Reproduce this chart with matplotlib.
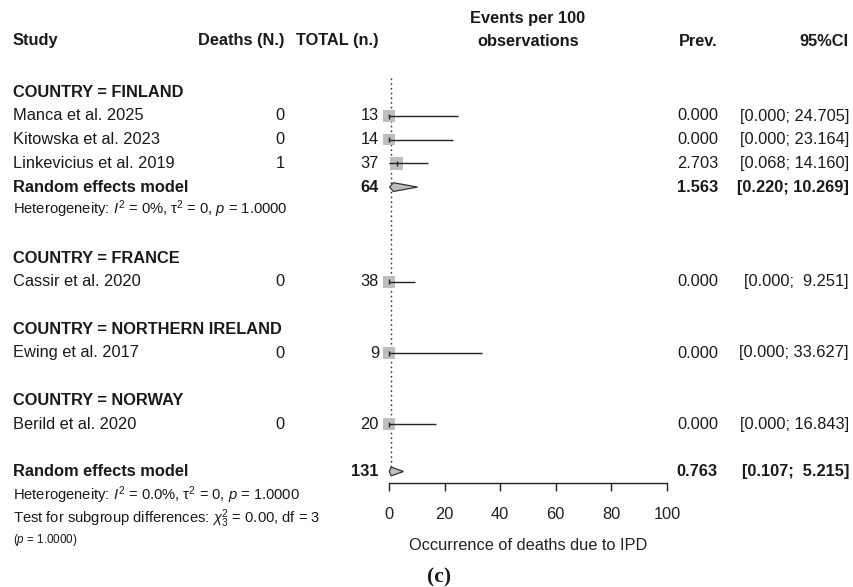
import numpy as np
import matplotlib
matplotlib.use("Agg")
import matplotlib.pyplot as plt
from matplotlib.patches import Rectangle, Polygon
from matplotlib.transforms import blended_transform_factory

plt.rcParams['font.family'] = ['Liberation Sans', 'DejaVu Sans']
plt.rcParams['mathtext.fontset'] = 'custom'
plt.rcParams['mathtext.rm'] = 'Liberation Sans'
plt.rcParams['mathtext.it'] = 'Liberation Sans:italic'
plt.rcParams['mathtext.bf'] = 'Liberation Sans:bold'

# studies, grouped by country
groups = ["FINLAND", "FRANCE", "NORTHERN IRELAND", "NORWAY"]
studies = ["Manca et al. 2025", "Kitowska et al. 2023", "Linkevicius et al. 2019",
           "Cassir et al. 2020", "Ewing et al. 2017", "Berild et al. 2020"]
study_group = [0, 0, 0, 1, 2, 3]
deaths = [0, 0, 1, 0, 0, 0]
totals = [13, 14, 37, 38, 9, 20]
prev = [0.000, 0.000, 2.703, 0.000, 0.000, 0.000]
ci_low = [0.000, 0.000, 0.068, 0.000, 0.000, 0.000]
ci_high = [24.705, 23.164, 14.160, 9.251, 33.627, 16.843]

# pooled estimates (Finland subgroup, overall)
fin_total = 64
fin_prev, fin_low, fin_high = 1.563, 0.220, 10.269
all_total = 131
all_prev, all_low, all_high = 0.763, 0.107, 5.215

W, H = 854, 587
ROW0, ROWH = 116, 23.7   # pixel y of first study row, row height


def row_of(py):
    return (py - ROW0) / ROWH


fig = plt.figure(figsize=(W / 100, H / 100), dpi=100)
ax_top, ax_bot = 78, 483
ax = fig.add_axes([389 / W, (H - ax_bot) / H, 278 / W, (ax_bot - ax_top) / H])
ax.set_xlim(0, 100)
ax.set_ylim(row_of(ax_bot), row_of(ax_top))
for s in ["top", "right", "left"]:
    ax.spines[s].set_visible(False)
ax.spines["bottom"].set_color("#222222")
ax.spines["bottom"].set_linewidth(1.0)
ax.set_yticks([])
ax.set_xticks([0, 20, 40, 60, 80, 100])
ax.tick_params(axis="x", direction="out", length=5.5, width=1.0, color="#222222",
               labelsize=11.8, labelcolor="#222222", pad=12)
ax.set_xlabel("Occurrence of deaths due to IPD", fontsize=11.8, color="#222222", labelpad=11)

tr = blended_transform_factory(fig.transFigure, ax.transData)
TXT = "#1a1a1a"
FS = 11.8
FS_HET = 10.6


def put(px, row, s, ha="left", bold=False, size=FS):
    fig.text(px / W, row, s, transform=tr, ha=ha, va="center", fontsize=size,
             fontweight="bold" if bold else "normal", color=TXT)


# column headers
hdr = row_of(41)
put(13, hdr, "Study", bold=True)
put(285, hdr, "Deaths (N.)", ha="right", bold=True)
put(379, hdr, "TOTAL (n.)", ha="right", bold=True)
put(528, row_of(18), "Events per 100", ha="center", bold=True)
put(528, hdr, "observations", ha="center", bold=True)
put(718, hdr, "Prev.", ha="right", bold=True)
put(849, hdr, "95%CI", ha="right", bold=True)

# row layout: group header, studies, (subgroup pooled + heterogeneity), blank
rows = {}
r = -1
group_rows = []
for g, name in enumerate(groups):
    group_rows.append(r)
    r += 1
    for i, sg in enumerate(study_group):
        if sg == g:
            rows[i] = r
            r += 1
    if g == 0:
        fin_row = r
        r += 2
    r += 1
overall_row = r

wts = [1 / (1 / (d + 0.5) + 1 / (n - d + 0.5)) for d, n in zip(deaths, totals)]
wmin = min(wts)


def fmt_ci(lo, hi):
    h = f"{hi:.3f}"
    pad = "  " if len(h) < 6 else " "
    return f"[{lo:.3f};{pad}{h}]"


def diamond(est, lo, hi, row):
    hh = 4.4 / ROWH
    ax.add_patch(Polygon([[lo, row], [est, row - hh], [hi, row], [est, row + hh]],
                         closed=True, facecolor="#bebebe", edgecolor="#333333",
                         linewidth=0.9, zorder=4, clip_on=False))


# reference line at the overall estimate
ax.vlines(all_prev, row_of(ax_top), overall_row - 0.2, colors="#333333",
          linestyles=(0, (1.2, 2.2)), linewidth=1.0, zorder=2)

for g, name in enumerate(groups):
    put(13, group_rows[g], f"COUNTRY = {name}", bold=True)

px_per_unit = 278 / 100
for i, name in enumerate(studies):
    rw = rows[i]
    put(13, rw, name)
    put(285, rw, str(deaths[i]), ha="right")
    put(379, rw, str(totals[i]), ha="right")
    put(718, rw, f"{prev[i]:.3f}", ha="right")
    put(849, rw, fmt_ci(ci_low[i], ci_high[i]), ha="right")
    box = 11.5 * (wts[i] / wmin) ** 0.12
    bw = box / px_per_unit
    bh = box / ROWH
    ax.add_patch(Rectangle((prev[i] - bw / 2, rw - bh / 2), bw, bh,
                           facecolor="#bebebe", edgecolor="none", zorder=3, clip_on=False))
    ax.hlines(rw, ci_low[i], ci_high[i], colors="#222222", linewidth=1.0, zorder=5)
    ax.vlines(prev[i], rw - 2.5 / ROWH, rw + 2.5 / ROWH, colors="#222222", linewidth=1.0,
              zorder=5, clip_on=False)

# Finland subgroup pooled
put(13, fin_row, "Random effects model", bold=True)
put(379, fin_row, str(fin_total), ha="right", bold=True)
put(718, fin_row, f"{fin_prev:.3f}", ha="right", bold=True)
put(849, fin_row, fmt_ci(fin_low, fin_high), ha="right", bold=True)
diamond(fin_prev, fin_low, fin_high, fin_row)
put(13, fin_row + 0.95, r"Heterogeneity: $I^2$ = 0%, $\mathrm{\tau}^2$ = 0, $p$ = 1.0000", size=FS_HET)

# overall pooled
put(13, overall_row, "Random effects model", bold=True)
put(379, overall_row, str(all_total), ha="right", bold=True)
put(718, overall_row, f"{all_prev:.3f}", ha="right", bold=True)
put(849, overall_row, fmt_ci(all_low, all_high), ha="right", bold=True)
diamond(all_prev, all_low, all_high, overall_row)
put(13, overall_row + 1, r"Heterogeneity: $I^2$ = 0.0%, $\mathrm{\tau}^2$ = 0, $p$ = 1.0000", size=FS_HET)
put(13, overall_row + 2, r"Test for subgroup differences: $\chi^2_3$ = 0.00, df = 3", size=FS_HET)
put(13, overall_row + 2.9, r"($p$ = 1.0000)", size=8.4)

fig.text(439 / W, 1 - 577 / H, "(c)", ha="center", va="center", fontsize=15.5,
         family="Liberation Serif", fontweight="bold", color=TXT)

fig.savefig("out.png", dpi=100)
